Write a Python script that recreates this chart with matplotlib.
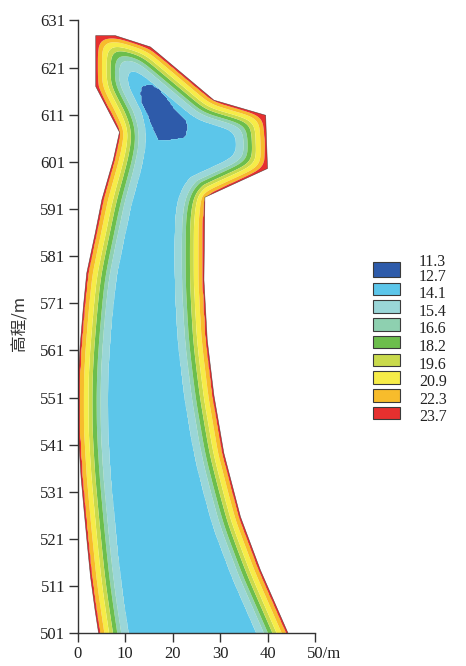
import math
import numpy as np
import matplotlib
matplotlib.use("Agg")
import matplotlib.pyplot as plt
from matplotlib.path import Path
from matplotlib.patches import Polygon, Rectangle

# ---------------- data ----------------
# outer outline of the section (x / m, elevation / m); the body continues below 501
outline_x = [3.8, 7.9, 15.3, 17.0, 28.7, 39.6, 40.0, 26.8, 26.6, 27.3, 28.7, 30.8,
             34.3, 38.5, 44.2, 47.8, 47.8, 5.6, 5.6, 4.36, 3.66, 2.7, 2.0, 1.33,
             0.7, 0.27, 0.0, 0.0, 0.5, 1.2, 1.9, 3.7, 5.1, 7.5, 8.8, 3.8]
outline_y = [627.8, 627.8, 625.4, 624.0, 614.1, 610.9, 599.6, 593.5, 576.0, 563.2, 551.5, 539.2,
             525.7, 514.4, 501.3, 493.0, 472.0, 472.0, 493.0, 501.3, 505.9, 513.0, 520.1, 527.2,
             534.2, 541.3, 548.0, 553.0, 561.8, 570.3, 577.4, 585.9, 593.0, 601.4, 607.3, 617.0]

# cold core (dark blue zone)
blob_x = [13.5, 15.3, 17.0, 18.8, 20.6, 22.7, 23.2, 22.7, 20.2, 17.0, 16.3, 15.3, 14.6, 13.5, 13.2]
blob_y = [617.0, 617.5, 616.6, 614.5, 612.0, 609.9, 608.5, 606.3, 605.8, 605.5, 607.1, 609.2, 611.3, 613.4, 615.5]

levels = [11.3, 12.7, 14.1, 15.4, 16.6, 18.2, 19.6, 20.9, 22.3, 23.7]
band_colors = ["#2E5BAA", "#5CC6EA", "#9AD6D8", "#8ED0B0", "#6CBE4C",
               "#C9DA4C", "#F6EC48", "#F7BC2C", "#E6302F"]

# depth below the surface (m) at which each isotherm is read, surface -> core
band_depth = [0.0, 0.45, 1.3, 2.3, 3.1, 4.0, 4.8, 6.3, 12.0]
band_temp = [23.5, 22.3, 20.9, 19.6, 18.2, 16.6, 15.4, 14.1, 12.9]
blob_temp = 12.0
diffusion_kt = 7.8
top_face_factor = 1.3     # isotherms lie closer under the upper faces
corner_rounding = 1.5     # m

yticks = [501, 511, 521, 531, 541, 551, 561, 571, 581, 591, 601, 611, 621, 631]
xticks = [0, 10, 20, 30, 40]
xtick_labels = ["0", "10", "20", "30", "40"]
last_xtick = 50
last_xtick_label = "50/m"
ylabel = "高程/m"

# ---------------- temperature field from the outline ----------------
dx = 0.25
gx = np.arange(-10, 60 + dx / 2, dx)
gy = np.arange(470, 640 + dx / 2, dx)
X, Y = np.meshgrid(gx, gy)
pts = np.column_stack([X.ravel(), Y.ravel()])
poly = np.column_stack([outline_x, outline_y])
inside = Path(poly).contains_points(pts).reshape(X.shape)

# signed depth below the outline (vertical axis stretched)
Ys = Y * top_face_factor
ps = poly * np.array([1.0, top_face_factor])
d_euc = np.full(X.shape, np.inf)
closed = np.vstack([ps, ps[:1]])
for (x1, y1), (x2, y2) in zip(closed[:-1], closed[1:]):
    vx, vy = x2 - x1, y2 - y1
    t = np.clip(((X - x1) * vx + (Ys - y1) * vy) / (vx * vx + vy * vy), 0, 1)
    d_euc = np.minimum(d_euc, np.hypot(X - (x1 + t * vx), Ys - (y1 + t * vy)))
d_sgn = np.where(inside, d_euc, -d_euc)


def gblur(a, sigma_cells):
    rad = int(3 * sigma_cells)
    k = np.exp(-0.5 * (np.arange(-rad, rad + 1) / sigma_cells) ** 2)
    k /= k.sum()
    p = np.pad(a, rad, mode="edge")
    ny, nx = a.shape
    o = sum(k[i] * p[i:i + ny, :] for i in range(2 * rad + 1))
    return sum(k[i] * o[:, i:i + nx] for i in range(2 * rad + 1))


d_round = gblur(d_sgn, corner_rounding / dx)

# conduction-based depth (captures re-entrant corners)
theta = np.where(inside, 0.0, 1.0).astype(np.float32)
mask_in = inside[1:-1, 1:-1].astype(np.float32)
r = 0.2
n_steps = int(round(diffusion_kt / (r * dx * dx)))
for _ in range(n_steps):
    c = theta[1:-1, 1:-1]
    lap = theta[:-2, 1:-1] + theta[2:, 1:-1] + theta[1:-1, :-2] + theta[1:-1, 2:] - 4 * c
    c += r * lap * mask_in
z_tab = np.linspace(0, 4, 801)
erfc_tab = np.array([math.erfc(z) for z in z_tab])
d_diff = np.interp(-theta, -erfc_tab, z_tab) * 2 * math.sqrt(diffusion_kt)

depth = np.maximum(np.maximum(d_round, d_diff), 0.0)
T = np.interp(depth, band_depth, band_temp)
in_blob = Path(np.column_stack([blob_x, blob_y])).contains_points(pts).reshape(X.shape)
T = np.where(in_blob, blob_temp, T)

# ---------------- figure ----------------
fig = plt.figure(figsize=(4.66, 6.66), dpi=100)
fig.patch.set_facecolor("white")
ax = fig.add_axes([77.7 / 466, (666 - 633.3) / 666, 237.3 / 466, 612.8 / 666])

cs = ax.contourf(gx, gy, T, levels=levels, colors=band_colors, antialiased=True)
outline = Polygon(poly, closed=True, facecolor="none", edgecolor="#222222",
                  lw=0.4, alpha=0.7, transform=ax.transData)
ax.add_patch(outline)
cs.set_clip_path(outline)

ax.set_xlim(0, 50)
ax.set_ylim(501, 631)
for s in ["top", "right"]:
    ax.spines[s].set_visible(False)
for s in ["left", "bottom"]:
    ax.spines[s].set_color("#333333")
    ax.spines[s].set_linewidth(1.0)

tick_font = dict(family="Liberation Serif", size=12)
ax.set_yticks(yticks)
ax.set_yticklabels([str(v) for v in yticks], fontdict=tick_font)
ax.set_xticks(xticks + [last_xtick])
ax.set_xticklabels(xtick_labels + [""], fontdict=tick_font)
ax.tick_params(axis="both", direction="out", length=6.5, width=1.0, color="#333333",
               colors="#222222", pad=2.5)
ax.annotate(last_xtick_label, xy=(last_xtick, 501), xycoords="data",
            xytext=(-6.0, -9.0), textcoords="offset points", ha="left", va="top",
            family="Liberation Serif", fontsize=12, color="#222222", annotation_clip=False)

ax.set_ylabel(ylabel, family=["Noto Sans CJK SC", "DejaVu Sans"], fontsize=12, color="#333333")
ax.yaxis.set_label_coords(-0.209, 0.506)

# ---------------- legend ----------------
lax = fig.add_axes([0, 0, 1, 1], facecolor="none")
lax.set_xlim(0, 466)
lax.set_ylim(666, 0)
lax.axis("off")
box_tops = [261.7] + [282.7 + 17.7 * k for k in range(8)]
box_h = [15.5] + [12.7] * 8
for top, h, c in zip(box_tops, box_h, band_colors):
    lax.add_patch(Rectangle((372.7, top), 27.3, h, facecolor=c, edgecolor="#3a3a3a", lw=0.8))
label_y = [261.7] + [276.7 + 17.58 * k for k in range(9)]
for yv, lv in zip(label_y, levels):
    lax.text(419, yv, f"{lv:.1f}", ha="left", va="center", fontsize=11.5,
             family="Liberation Serif", color="#222222")

fig.savefig("out.png", dpi=100)
